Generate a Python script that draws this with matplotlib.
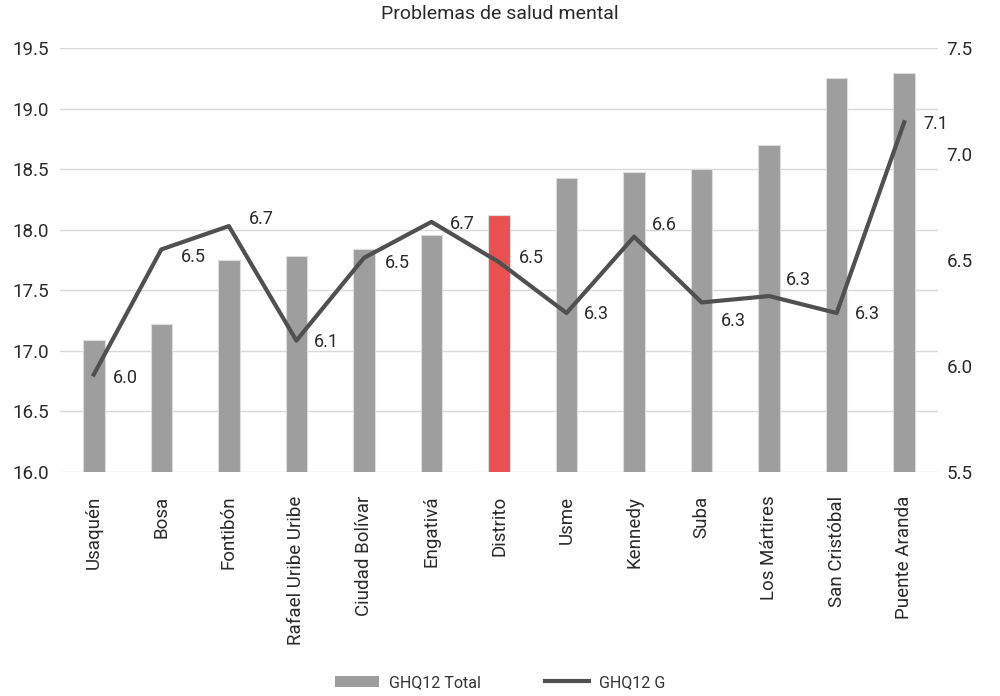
import matplotlib
matplotlib.use("Agg")
import matplotlib.pyplot as plt
from matplotlib.patches import Patch
from matplotlib.lines import Line2D
import numpy as np

plt.rcParams['font.family'] = ['Roboto', 'DejaVu Sans']

# Datos
localidades = ['Usaquén', 'Bosa', 'Fontibón', 'Rafael Uribe Uribe', 'Ciudad Bolívar',
               'Engativá', 'Distrito', 'Usme', 'Kennedy', 'Suba', 'Los Mártires',
               'San Cristóbal', 'Puente Aranda']
ghq12_total = [17.09, 17.22, 17.75, 17.78, 17.84, 17.96, 18.12, 18.43, 18.48, 18.50,
               18.70, 19.25, 19.29]
ghq12_g = [5.96, 6.55, 6.66, 6.12, 6.51, 6.68, 6.49, 6.25, 6.61, 6.30, 6.33, 6.25, 7.15]
etiquetas_g = ['6.0', '6.5', '6.7', '6.1', '6.5', '6.7', '6.5', '6.3', '6.6', '6.3',
               '6.3', '6.3', '7.1']

# desplazamiento de etiquetas (pixeles)
offsets = [(32, -3), (32, -8), (32, 7), (30, -1), (33, -5), (31, -2), (32, 4),
           (30, -1), (30, 12), (32, -19), (29, 16), (31, -1), (32, -2)]

col_barra = '#9E9E9E'
col_destacado = '#E85052'
col_linea = '#505050'
col_texto = '#2A2A2A'

fig = plt.figure(figsize=(10, 6.96), dpi=100)
ax = fig.add_axes([0.06, 0.3218, 0.878, 0.6092])
ax2 = ax.twinx()

x = np.arange(len(localidades))
colores = [col_destacado if n == 'Distrito' else col_barra for n in localidades]
ax.bar(x, ghq12_total, width=0.32, color=colores, edgecolor='#DDDDDD', linewidth=0.8,
       zorder=2)
ax.set_ylim(16.0, 19.5)
ax.set_yticks(np.arange(16.0, 19.51, 0.5))
ax.set_yticklabels([f'{v:.1f}' for v in np.arange(16.0, 19.51, 0.5)])
ax.set_xlim(-0.5, len(localidades) - 0.5)
ax.set_xticks(x)
ax.set_xticklabels(localidades, rotation=90, fontsize=13.5, color=col_texto)
ax.grid(axis='y', color='#D9D9D9', linewidth=1, zorder=0)
ax.set_axisbelow(True)

ax2.plot(x, ghq12_g, color=col_linea, linewidth=3, zorder=3)
ax2.set_ylim(5.5, 7.5)
ax2.set_yticks(np.arange(5.5, 7.51, 0.5))
ax2.set_yticklabels([f'{v:.1f}' for v in np.arange(5.5, 7.51, 0.5)])

for xi, yi, lab, (dx, dy) in zip(x, ghq12_g, etiquetas_g, offsets):
    ax2.annotate(lab, xy=(xi, yi), xytext=(dx, dy), textcoords='offset pixels',
                 ha='center', va='center', fontsize=13, color=col_texto)

for a in (ax, ax2):
    for s in a.spines.values():
        s.set_visible(False)
    a.tick_params(length=0, labelsize=13.5, labelcolor=col_texto)
ax.tick_params(axis='x', pad=17, labelsize=13.5)
ax.tick_params(axis='y', pad=8)
ax2.tick_params(axis='y', pad=6)

fig.text(0.5, 0.98, 'Problemas de salud mental', ha='center', va='center',
         fontsize=14, color=col_texto)

handles = [Patch(facecolor=col_barra, edgecolor='none'),
           Line2D([0], [0], color=col_linea, linewidth=3)]
fig.legend(handles, ['GHQ12 Total', 'GHQ12 G'], loc='lower center',
           bbox_to_anchor=(0.5, -0.012), ncol=2, frameon=False, fontsize=11.5,
           columnspacing=4.0, handlelength=2.8, handletextpad=0.6,
           labelcolor='#333333')

fig.savefig('out.png', dpi=100)
